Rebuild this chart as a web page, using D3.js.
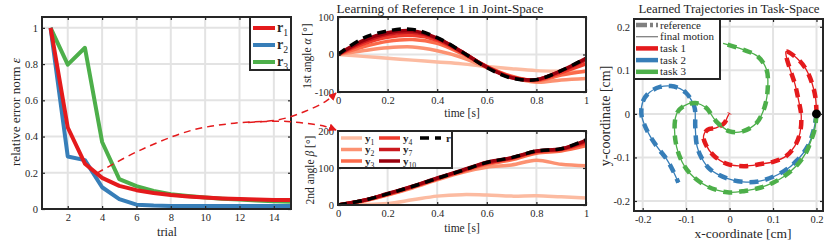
<!DOCTYPE html>
<html>
<head>
<meta charset="utf-8">
<script src="https://cdn.jsdelivr.net/npm/d3@7"></script>
<style>
  body { margin: 0; background: #fff; }
  text { font-family: "Liberation Serif", serif; fill: #262626; }
</style>
</head>
<body>
<svg id="fig" width="830" height="241"></svg>
<script>
// ---------- data ----------
// left: relative error norm per trial
const trials = [1, 2, 3, 4, 5, 6, 7, 8, 9, 10, 11, 12, 13, 14, 15];
const errR1 = [1, 0.45, 0.25, 0.172, 0.128, 0.104, 0.088, 0.077, 0.069, 0.063, 0.058, 0.055, 0.052, 0.05, 0.049];
const errR2 = [1, 0.29, 0.27, 0.12, 0.055, 0.024, 0.019, 0.017, 0.016, 0.016, 0.016, 0.016, 0.016, 0.016, 0.016];
const errR3 = [1, 0.797, 0.89, 0.37, 0.165, 0.126, 0.1, 0.082, 0.072, 0.064, 0.057, 0.052, 0.047, 0.043, 0.04];

// middle: joint angles over time
const time = [0, 0.1, 0.2, 0.3, 0.4, 0.5, 0.6, 0.7, 0.8, 0.9, 1];
const alphaRef = [0, 43, 63, 67, 45, 7, -35, -63, -67, -43, -10];
const alphaY1 = [0, -5, -10, -15, -20, -25, -32, -38, -43, -45, -46];
const alphaY2 = [0, 10, 18, 20, 10, -8, -35, -60, -74, -68, -64];
const alphaY3 = [0, 20, 35, 40, 30, 2, -32, -58, -70, -55, -44];
const alphaY4 = [0, 28, 46, 51, 38, 5, -32, -60, -69, -48, -25];
const alphaY7 = [0, 33, 54, 59, 42, 7, -33, -61, -67, -44, -14];
const alphaY10 = [0, 37, 58, 63, 44, 7, -34, -62, -67, -43, -10];

const betaRef = [0, 12, 30, 50, 72, 93, 115, 128, 146, 152, 176];
const betaY1 = [0, 1, 4, 14, 24, 28, 27, 24, 25, 22, 19];
const betaY2 = [0, 10, 27, 46, 68, 88, 102, 108, 121, 110, 106];
const betaY3 = [0, 11, 28, 48, 70, 90, 110, 122, 140, 146, 160];
const betaY4 = [0, 12, 29, 49, 71, 92, 113, 126, 144, 150, 167];
const betaY7 = [0, 12, 30, 50, 72, 93, 114, 127, 145, 151, 172];
const betaY10 = [0, 12, 31, 51, 73, 94, 116, 128, 146, 152, 175];
const trialNames = ["1", "2", "3", "4", "7", "10"];

// right: task-space trajectories [x, y]
const task1 = [[0.2, 0], [0.198, 0.035], [0.19, 0.07], [0.175, 0.104], [0.155, 0.128], [0.13, 0.143],
  [0.131, 0.13], [0.14, 0.1], [0.15, 0.07], [0.158, 0.035], [0.165, -0.005], [0.162, -0.044],
  [0.15, -0.074], [0.13, -0.097], [0.1, -0.11], [0.072, -0.115], [0.035, -0.12], [-0.006, -0.115],
  [-0.037, -0.095], [-0.055, -0.07], [-0.06, -0.051], [-0.05, -0.036], [-0.031, -0.032],
  [-0.012, -0.021], [-0.004, -0.005], [0, 0.002]];
const task2 = [[0.2, 0], [0.194, -0.035], [0.18, -0.074], [0.154, -0.108], [0.126, -0.131],
  [0.072, -0.154], [0.03, -0.156], [-0.006, -0.148], [-0.045, -0.127], [-0.065, -0.1],
  [-0.075, -0.074], [-0.079, -0.03], [-0.08, 0.012], [-0.087, 0.03], [-0.1, 0.048], [-0.114, 0.058],
  [-0.135, 0.064], [-0.16, 0.062], [-0.184, 0.05], [-0.199, 0.03], [-0.203, 0], [-0.196, -0.025],
  [-0.183, -0.051], [-0.165, -0.078], [-0.145, -0.104], [-0.128, -0.135], [-0.118, -0.158]];
const task3 = [[0.2, 0], [0.196, -0.035], [0.186, -0.065], [0.176, -0.089], [0.155, -0.118],
  [0.126, -0.143], [0.1, -0.158], [0.072, -0.169], [0.035, -0.177], [-0.005, -0.18], [-0.052, -0.166],
  [-0.091, -0.137], [-0.114, -0.1], [-0.126, -0.05], [-0.122, 0], [-0.106, 0.018], [-0.079, 0.025],
  [-0.054, 0.014], [-0.031, -0.017], [0, -0.04], [0.03, -0.04], [0.062, -0.021], [0.081, 0.017],
  [0.088, 0.063], [0.085, 0.102], [0.065, 0.132], [0.03, 0.148], [-0.015, 0.162]];
const startPoint = [0.2, 0];

// dashed red annotation, in units of the left axes
const linkTop = [[3.7, 0.198], [6.2, 0.324], [9.2, 0.434], [11.7, 0.474], [14.3, 0.493], [15.8, 0.538], [17, 0.593]];
const linkBottom = [[12.5, 0.478], [14.3, 0.485], [15.8, 0.474], [17, 0.456]];

// ---------- styles ----------
const svg = d3.select("#fig");
const boxColor = "#262626";
const gridColor = "#e3e3e3";
const set1 = { red: "#e41a1c", blue: "#377eb8", green: "#4daf4a" };
const reds = ["#fcbba1", "#fc9272", "#fb6a4a", "#ef3b2c", "#cb181d", "#99000d"];
const fmt = d => String(+d.toFixed(2));
let clipId = 0;

function grid(x, y, xt, yt) {
  const g = svg.append("g");
  const [xa, xb] = x.range(), [yb, ya] = y.range();
  g.selectAll(null).data(xt).join("line")
    .attr("x1", d => x(d)).attr("x2", d => x(d)).attr("y1", ya).attr("y2", yb)
    .attr("stroke", gridColor).attr("stroke-width", 2);
  g.selectAll(null).data(yt).join("line")
    .attr("x1", xa).attr("x2", xb).attr("y1", d => y(d)).attr("y2", d => y(d))
    .attr("stroke", gridColor).attr("stroke-width", 2);
  const id = "clip" + (clipId++);
  svg.append("clipPath").attr("id", id).append("rect")
    .attr("x", xa).attr("y", ya).attr("width", xb - xa).attr("height", yb - ya);
  return svg.append("g").attr("clip-path", `url(#${id})`);
}

function box(x, y, xt, yt) {
  const [xa, xb] = x.range(), [yb, ya] = y.range();
  const g = svg.append("g");
  g.append("g").attr("transform", `translate(0,${yb})`)
    .call(d3.axisBottom(x).tickValues(xt).tickSize(-3).tickPadding(5).tickFormat(fmt));
  g.append("g").attr("transform", `translate(0,${ya})`)
    .call(d3.axisTop(x).tickValues(xt).tickSize(-3).tickFormat(""));
  g.append("g").attr("transform", `translate(${xa},0)`)
    .call(d3.axisLeft(y).tickValues(yt).tickSize(-3).tickPadding(4).tickFormat(fmt));
  g.append("g").attr("transform", `translate(${xb},0)`)
    .call(d3.axisRight(y).tickValues(yt).tickSize(-3).tickFormat(""));
  g.selectAll(".domain").remove();
  g.selectAll(".tick line").attr("stroke", boxColor).attr("stroke-width", 1.2);
  g.selectAll("g").attr("font-family", null).attr("font-size", null);
  g.selectAll(".tick text").style("font-size", "10.5px").attr("fill", boxColor);
  g.append("rect").attr("x", xa).attr("y", ya).attr("width", xb - xa).attr("height", yb - ya)
    .attr("fill", "none").attr("stroke", boxColor).attr("stroke-width", 2);
}

function label(x, y, size, rotate) {
  return svg.append("text")
    .attr("transform", `translate(${x},${y})` + (rotate ? " rotate(-90)" : ""))
    .attr("text-anchor", "middle").attr("dy", "0.35em")
    .style("font-size", size + "px");
}

function subText(sel, base, sub, size) {
  sel.append("tspan").attr("font-weight", "bold").text(base);
  sel.append("tspan").style("font-size", (size * 0.7) + "px").attr("dy", size * 0.28).text(sub);
}

function legendBox(x0, y0, x1, y1) {
  svg.append("rect").attr("x", x0).attr("y", y0).attr("width", x1 - x0).attr("height", y1 - y0)
    .attr("fill", "#fff").attr("stroke", boxColor).attr("stroke-width", 2);
}

// ---------- left panel ----------
const xL = d3.scaleLinear([0.5, 15], [42, 291]);
const yL = d3.scaleLinear([0, 1.06], [209, 17]);
const xtL = [2, 4, 6, 8, 10, 12, 14];
const ytL = [0, 0.2, 0.4, 0.6, 0.8, 1];
const plotL = grid(xL, yL, xtL, ytL);
const errSeries = [
  { name: "1", values: errR1, color: set1.red },
  { name: "2", values: errR2, color: set1.blue },
  { name: "3", values: errR3, color: set1.green }
];
const errLine = d3.line().x((d, i) => xL(trials[i])).y(d => yL(d));
// green, blue, then red on top
[errSeries[2], errSeries[1], errSeries[0]].forEach(s => {
  plotL.append("path").attr("d", errLine(s.values)).attr("fill", "none")
    .attr("stroke", s.color).attr("stroke-width", 4).attr("stroke-linejoin", "round");
});
box(xL, yL, xtL, ytL);
label(15, 112, 13.2, true).html("relative error norm <tspan font-style='italic'>ε</tspan>");
label(167, 232, 12.5).text("trial");
legendBox(250, 17, 291, 70);
errSeries.forEach((s, i) => {
  const yy = 28 + i * 17;
  svg.append("line").attr("x1", 253).attr("x2", 275).attr("y1", yy).attr("y2", yy)
    .attr("stroke", s.color).attr("stroke-width", 4);
  const t = svg.append("text").attr("x", 277).attr("y", yy + 4).style("font-size", "14px");
  subText(t, "r", s.name, 14);
});

// ---------- middle panels ----------
const xM = d3.scaleLinear([0, 1], [338, 586]);
const yA = d3.scaleLinear([-100, 100], [92, 17]);
const yB = d3.scaleLinear([0, 200], [205, 131]);
const xtM = [0, 0.2, 0.4, 0.6, 0.8, 1];

function jointPanel(y, yt, learned, ref) {
  const plot = grid(xM, y, xtM, yt);
  const line = d3.line().x((d, i) => xM(time[i])).y(d => y(d)).curve(d3.curveCatmullRom);
  learned.forEach((vals, i) => {
    plot.append("path").attr("d", line(vals)).attr("fill", "none")
      .attr("stroke", reds[i]).attr("stroke-width", 3.5).attr("stroke-linejoin", "round");
  });
  plot.append("path").attr("d", line(ref)).attr("fill", "none")
    .attr("stroke", "#000").attr("stroke-width", 3.5).attr("stroke-dasharray", "9,6");
  box(xM, y, xtM, yt);
}
jointPanel(yA, [-100, 0, 100], [alphaY1, alphaY2, alphaY3, alphaY4, alphaY7, alphaY10], alphaRef);
jointPanel(yB, [0, 100, 200], [betaY1, betaY2, betaY3, betaY4, betaY7, betaY10], betaRef);

svg.append("text").attr("x", 440).attr("y", 8).attr("dy", "0.35em").attr("text-anchor", "middle")
  .style("font-size", "13.2px").text("Learning of Reference 1 in Joint-Space");
label(307, 56, 11.5, true).html("1st angle <tspan font-style='italic'>α</tspan> [°]");
label(462, 113, 11.5).text("time [s]");
label(310, 170, 11.5, true).html("2nd angle <tspan font-style='italic'>β</tspan> [°]");
label(462, 228, 11.5).text("time [s]");

// legend of the lower joint panel
legendBox(338, 131, 452, 168);
trialNames.forEach((n, i) => {
  const col = Math.floor(i / 3), row = i % 3;
  const x0 = 341 + col * 38, yy = 138 + row * 11.5;
  svg.append("line").attr("x1", x0).attr("x2", x0 + 21).attr("y1", yy).attr("y2", yy)
    .attr("stroke", reds[i]).attr("stroke-width", 3.5);
  const t = svg.append("text").attr("x", x0 + 24).attr("y", yy + 3.5).style("font-size", "11px");
  subText(t, "y", n, 11);
});
svg.append("line").attr("x1", 420).attr("x2", 441).attr("y1", 138).attr("y2", 138)
  .attr("stroke", "#000").attr("stroke-width", 3.5).attr("stroke-dasharray", "9,6");
svg.append("text").attr("x", 446).attr("y", 141.5).style("font-size", "11px")
  .attr("font-weight", "bold").text("r");

// ---------- right panel ----------
const xR = d3.scaleLinear([-0.22, 0.215], [634, 823]);
const yR = d3.scaleLinear([-0.223, 0.218], [211, 19]);
const tR = [-0.2, -0.1, 0, 0.1, 0.2];
const plotR = grid(xR, yR, tR, tR);
const pathR = d3.line().x(d => xR(d[0])).y(d => yR(d[1])).curve(d3.curveCatmullRom);
const tasks = [
  { name: "task 1", pts: task1, color: set1.red },
  { name: "task 2", pts: task2, color: set1.blue },
  { name: "task 3", pts: task3, color: set1.green }
];
tasks.forEach(t => {
  plotR.append("path").attr("d", pathR(t.pts)).attr("fill", "none")
    .attr("stroke", t.color).attr("stroke-width", 4.5).attr("stroke-dasharray", "9,7");
  plotR.append("path").attr("d", pathR(t.pts)).attr("fill", "none")
    .attr("stroke", t.color).attr("stroke-width", 1.3);
});
plotR.append("circle").attr("cx", xR(startPoint[0])).attr("cy", yR(startPoint[1])).attr("r", 4.5)
  .attr("fill", "#000");
box(xR, yR, tR, tR);
label(729, 8, 12.85).text("Learned Trajectories in Task-Space");
label(605, 116, 14, true).text("y-coordinate [cm]");
label(743, 233.5, 13.5).text("x-coordinate [cm]");

legendBox(634, 19, 720, 79);
const legR = [
  { name: "reference", color: "#808080", w: 4.5, dash: "11,3,3,3" },
  { name: "final motion", color: "#808080", w: 1.3, dash: null },
  { name: tasks[0].name, color: tasks[0].color, w: 4.5, dash: null },
  { name: tasks[1].name, color: tasks[1].color, w: 4.5, dash: null },
  { name: tasks[2].name, color: tasks[2].color, w: 4.5, dash: null }
];
legR.forEach((d, i) => {
  const yy = 25 + i * 11.7;
  svg.append("line").attr("x1", 636).attr("x2", 658).attr("y1", yy).attr("y2", yy)
    .attr("stroke", d.color).attr("stroke-width", d.w).attr("stroke-dasharray", d.dash);
  svg.append("text").attr("x", 660).attr("y", yy).attr("dy", "0.32em")
    .style("font-size", "11px").text(d.name);
});

// ---------- dashed links between panels ----------
const defs = svg.append("defs");
defs.append("marker").attr("id", "arrow").attr("viewBox", "0 0 10 10")
  .attr("refX", 9).attr("refY", 5).attr("markerWidth", 8).attr("markerHeight", 8)
  .attr("markerUnits", "userSpaceOnUse").attr("orient", "auto")
  .append("path").attr("d", "M0,0 L10,5 L0,10 Z").attr("fill", set1.red);
const linkLine = d3.line().curve(d3.curveCatmullRom);
function link(pts, end) {
  const p = pts.map(d => [xL(d[0]), yL(d[1])]).concat([end]);
  svg.append("path").attr("d", linkLine(p)).attr("fill", "none")
    .attr("stroke", set1.red).attr("stroke-width", 1.5).attr("stroke-dasharray", "7,5")
    .attr("marker-end", "url(#arrow)");
}
link(linkTop, [xM(0) - 2, yA(-100) + 1]);
link(linkBottom, [xM(0) - 2, yB(200) - 1]);
</script>
</body>
</html>
